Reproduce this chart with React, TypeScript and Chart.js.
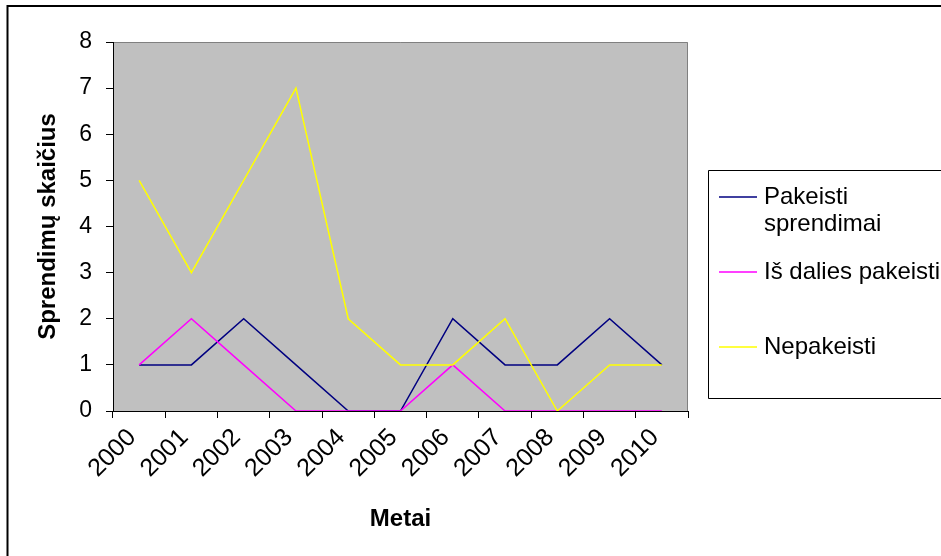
import { useEffect, useRef } from 'react';
import { Chart, registerables } from 'chart.js';

Chart.register(...registerables);

const years = ['2000', '2001', '2002', '2003', '2004', '2005', '2006', '2007', '2008', '2009', '2010'];
const pakeistiSprendimai = [1, 1, 2, 1, 0, 0, 2, 1, 1, 2, 1];
const isDaliesPakeisti = [1, 2, 1, 0, 0, 0, 1, 0, 0, 0, 0];
const nepakeisti = [5, 3, 5, 7, 2, 1, 1, 2, 0, 1, 1];
const seriesLabels = [['Pakeisti', 'sprendimai'], ['Iš dalies pakeisti'], ['Nepakeisti']];
const seriesColors = ['#000080', '#FF00FF', '#FFFF00'];
const yMin = 0;
const yMax = 8;
const yStep = 1;
const yTitle = 'Sprendimų skaičius';
const xTitle = 'Metai';

const FONT = "'Liberation Sans', Arial, Helvetica, sans-serif";

const framePlugin = {
  id: 'frame',
  beforeDraw(chart: any) {
    const { ctx, chartArea } = chart;
    const { left, top, right, bottom } = chartArea;
    ctx.save();
    ctx.fillStyle = '#FFFFFF';
    ctx.fillRect(0, 0, chart.width, chart.height);
    ctx.fillStyle = '#C0C0C0';
    ctx.fillRect(left, top, right - left, bottom - top);
    ctx.strokeStyle = '#808080';
    ctx.lineWidth = 1;
    ctx.beginPath();
    ctx.moveTo(left, top + 0.5);
    ctx.lineTo(right - 0.5, top + 0.5);
    ctx.lineTo(right - 0.5, bottom);
    ctx.stroke();
    ctx.restore();
  },
  afterDraw(chart: any) {
    const { ctx } = chart;
    ctx.save();
    // outer chart border (cropped at right / bottom)
    ctx.strokeStyle = '#000000';
    ctx.lineWidth = 2;
    ctx.beginPath();
    ctx.moveTo(7.5, chart.height + 2);
    ctx.lineTo(7.5, 6);
    ctx.lineTo(chart.width + 2, 6);
    ctx.stroke();

    // legend box
    const bx = 708.5;
    const by = 170.5;
    const bb = 398.5;
    ctx.lineWidth = 1;
    ctx.beginPath();
    ctx.moveTo(chart.width + 2, by);
    ctx.lineTo(bx, by);
    ctx.lineTo(bx, bb);
    ctx.lineTo(chart.width + 2, bb);
    ctx.stroke();

    const itemY = [197, 272, 347];
    ctx.font = `24px ${FONT}`;
    ctx.textBaseline = 'middle';
    ctx.textAlign = 'left';
    chart.data.datasets.forEach((ds: any, i: number) => {
      const y = itemY[i];
      ctx.strokeStyle = ds.borderColor;
      ctx.lineWidth = 1.5;
      ctx.beginPath();
      ctx.moveTo(719, y);
      ctx.lineTo(757, y);
      ctx.stroke();
      ctx.fillStyle = '#000000';
      const lines: string[] = seriesLabels[i];
      lines.forEach((t, j) => {
        ctx.fillText(t, 764, y + j * 27);
      });
    });
    ctx.restore();
  },
};

export default function App() {
  const canvasRef = useRef<HTMLCanvasElement | null>(null);

  useEffect(() => {
    document.body.style.margin = '0';
    const canvas = canvasRef.current;
    if (!canvas) return;
    const datasets = [pakeistiSprendimai, isDaliesPakeisti, nepakeisti].map((data, i) => ({
      label: seriesLabels[i].join(' '),
      data,
      borderColor: seriesColors[i],
      backgroundColor: seriesColors[i],
      borderWidth: 1.5,
      pointRadius: 0,
      pointHoverRadius: 0,
      tension: 0,
      fill: false,
      order: 3 - i,
    }));
    const chart = new Chart(canvas, {
      type: 'line',
      data: { labels: years, datasets },
      options: {
        responsive: false,
        animation: false,
        devicePixelRatio: 1,
        layout: { padding: { left: 0, top: 42, right: 253, bottom: 0 } },
        plugins: {
          legend: { display: false },
          tooltip: { enabled: false },
          title: { display: false },
        },
        scales: {
          x: {
            type: 'category',
            offset: true,
            grid: {
              offset: true,
              drawOnChartArea: false,
              drawTicks: true,
              tickLength: 7,
              color: '#000000',
            },
            border: { display: true, color: '#000000', width: 1 },
            ticks: {
              color: '#000000',
              font: { family: FONT, size: 25, lineHeight: 1.2 },
              minRotation: 45,
              maxRotation: 45,
              autoSkip: false,
              padding: 5,
              labelOffset: -7,
            },
            title: {
              display: true,
              text: xTitle,
              color: '#000000',
              font: { family: FONT, size: 24, weight: 'bold' },
              padding: { top: 0, bottom: 22 },
            },
            afterFit(scale: any) {
              scale.height = 145;
            },
          },
          y: {
            min: yMin,
            max: yMax,
            ticks: {
              stepSize: yStep,
              color: '#000000',
              font: { family: FONT, size: 23 },
              padding: 14,
            },
            grid: {
              drawOnChartArea: false,
              drawTicks: true,
              tickLength: 7,
              color: '#000000',
            },
            border: { display: true, color: '#000000', width: 1 },
            title: {
              display: true,
              text: yTitle,
              color: '#000000',
              font: { family: FONT, size: 24, weight: 'bold' },
              padding: { top: 34, bottom: 0 },
            },
            afterFit(scale: any) {
              scale.width = 113;
            },
          },
        },
      },
      plugins: [framePlugin],
    });
    return () => chart.destroy();
  }, []);

  return (
    <div style={{ position: 'absolute', left: 0, top: 0, width: 941, height: 556 }}>
      <canvas ref={canvasRef} width={941} height={556} style={{ display: 'block', width: 941, height: 556 }} />
    </div>
  );
}
